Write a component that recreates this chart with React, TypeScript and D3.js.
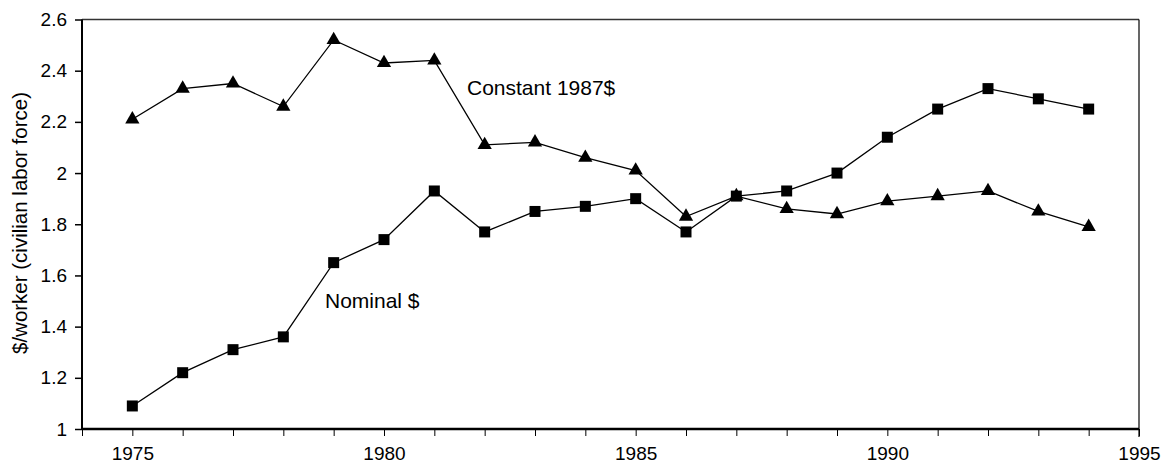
import React, { useEffect, useRef } from 'react';
import * as d3 from 'd3';

// data
const years = [1975, 1976, 1977, 1978, 1979, 1980, 1981, 1982, 1983, 1984,
  1985, 1986, 1987, 1988, 1989, 1990, 1991, 1992, 1993, 1994];
const constant1987 = [2.21, 2.33, 2.35, 2.26, 2.52, 2.43, 2.44, 2.11, 2.12, 2.06,
  2.01, 1.83, 1.91, 1.86, 1.84, 1.89, 1.91, 1.93, 1.85, 1.79];
const nominal = [1.09, 1.22, 1.31, 1.36, 1.65, 1.74, 1.93, 1.77, 1.85, 1.87,
  1.90, 1.77, 1.91, 1.93, 2.00, 2.14, 2.25, 2.33, 2.29, 2.25];
const yTicks = [1, 1.2, 1.4, 1.6, 1.8, 2, 2.2, 2.4, 2.6];
const xLabels = [1975, 1980, 1985, 1990, 1995];

const W = 1162;
const H = 463;
const font = "'Liberation Sans', Arial, Helvetica, sans-serif";

export default function App() {
  const ref = useRef<SVGSVGElement>(null);

  useEffect(() => {
    const svg = d3.select(ref.current);
    svg.selectAll('*').remove();

    const left = 82, right = 1139, top = 19.5, bottom = 429;
    const x = d3.scaleLinear().domain([1974, 1995]).range([left, right]);
    const y = d3.scaleLinear().domain([1, 2.6]).range([bottom, top]);

    // frame
    svg.append('line')
      .attr('x1', left).attr('x2', right).attr('y1', top).attr('y2', top)
      .attr('stroke', '#333').attr('stroke-width', 1.5);
    svg.append('line')
      .attr('x1', right).attr('x2', right).attr('y1', top).attr('y2', bottom + 8)
      .attr('stroke', '#000').attr('stroke-width', 1.2);

    // x axis
    const xAxis = d3.axisBottom(x)
      .tickValues(d3.range(1974, 1996))
      .tickSize(7)
      .tickPadding(11)
      .tickFormat((d: any) => (xLabels.indexOf(+d) >= 0 ? String(d) : ''));
    const gx = svg.append('g')
      .attr('transform', `translate(0 ${bottom})`)
      .call(xAxis as any);
    gx.select('.domain').remove();
    gx.selectAll('line').attr('stroke', '#000').attr('stroke-width', 1);
    gx.selectAll('text').attr('font-size', 19).attr('font-family', font).attr('fill', '#000');

    // y axis
    const yAxis = d3.axisLeft(y)
      .tickValues(yTicks)
      .tickSize(7)
      .tickPadding(8)
      .tickFormat((d: any) => String(d));
    const gy = svg.append('g')
      .attr('transform', `translate(${left} 0)`)
      .call(yAxis as any);
    gy.select('.domain').remove();
    gy.selectAll('line').attr('stroke', '#000').attr('stroke-width', 1.5);
    gy.selectAll('text').attr('font-size', 19).attr('font-family', font).attr('fill', '#000');

    svg.append('line')
      .attr('x1', left).attr('x2', left).attr('y1', top).attr('y2', bottom + 1)
      .attr('stroke', '#000').attr('stroke-width', 2);
    svg.append('line')
      .attr('x1', left).attr('x2', right).attr('y1', bottom).attr('y2', bottom)
      .attr('stroke', '#000').attr('stroke-width', 2.5);

    // axis title
    svg.append('text')
      .attr('transform', `translate(27 ${223}) rotate(-90)`)
      .attr('text-anchor', 'middle')
      .attr('font-size', 20.5)
      .attr('font-family', font)
      .text('$/worker (civilian labor force)');

    // series
    const series = [
      { values: constant1987, symbol: d3.symbolTriangle, size: 88 },
      { values: nominal, symbol: d3.symbolSquare, size: 121 },
    ];
    const line = d3.line<number>()
      .x((d, i) => x(years[i]))
      .y(d => y(d));

    series.forEach(s => {
      svg.append('path')
        .attr('d', line(s.values))
        .attr('fill', 'none')
        .attr('stroke', '#000')
        .attr('stroke-width', 1.3);
      svg.append('g').selectAll('path')
        .data(s.values)
        .enter()
        .append('path')
        .attr('d', d3.symbol().type(s.symbol).size(s.size)())
        .attr('transform', (d, i) => `translate(${x(years[i])} ${y(d)})`)
        .attr('fill', '#000');
    });

    // series labels
    svg.append('text')
      .attr('x', 467).attr('y', 95)
      .attr('font-size', 21).attr('font-family', font)
      .text('Constant 1987$');
    svg.append('text')
      .attr('x', 325).attr('y', 308)
      .attr('font-size', 21).attr('font-family', font)
      .text('Nominal $');
  }, []);

  return (
    <svg
      ref={ref}
      width={W}
      height={H}
      style={{ position: 'absolute', left: 0, top: 0, background: '#fff' }}
    />
  );
}
